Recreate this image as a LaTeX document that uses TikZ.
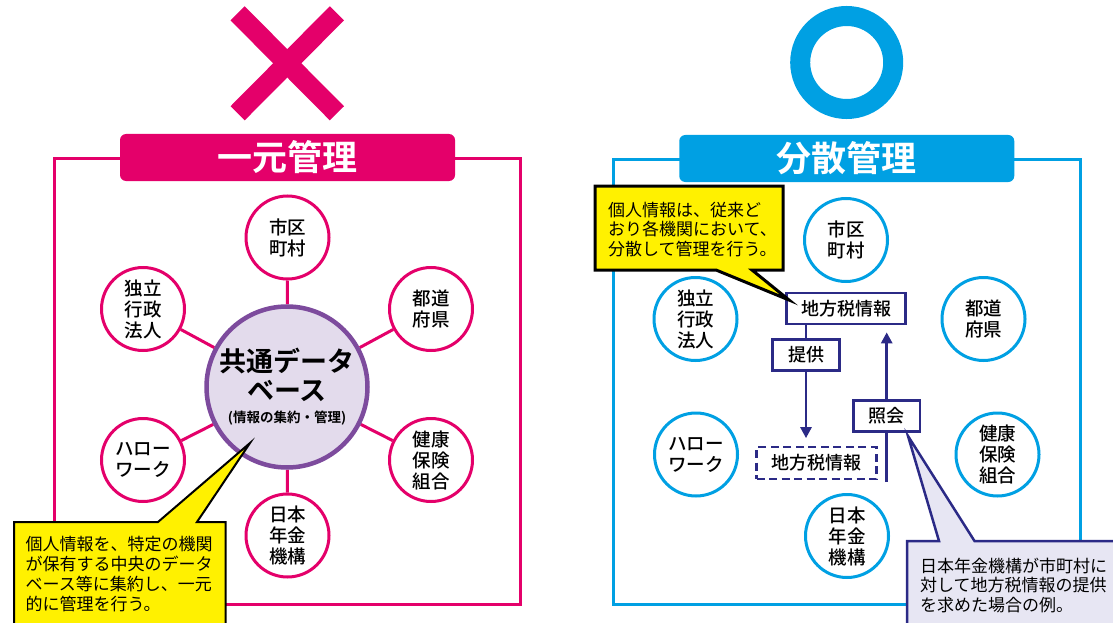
\documentclass[tikz,border=0pt]{standalone}
\usepackage{fontspec}
\setmainfont{Noto Sans CJK JP}
\newfontfamily\jpmed{Noto Sans CJK JP Medium}
\newfontfamily\jpbold{Noto Sans CJK JP Bold}
\usetikzlibrary{arrows.meta,backgrounds}
\definecolor{mag}{HTML}{E4006A}
\definecolor{cyanb}{HTML}{00A0E3}
\definecolor{purp}{HTML}{7D4B9D}
\definecolor{lav}{HTML}{E3DBEC}
\definecolor{navy}{HTML}{2B2A86}
\definecolor{yel}{HTML}{FFF100}
\definecolor{lavb}{HTML}{E7E6F3}
\tikzset{
  sat/.style={circle, draw=#1, line width=3pt, fill=white, minimum size=83pt, inner sep=0pt, align=center, font=\jpmed\fontsize{18.5}{21}\selectfont},
  titlebox/.style={rounded corners=6pt, fill=#1, text=white, minimum width=335pt, minimum height=47pt, inner sep=0pt, font=\jpbold\fontsize{35}{40}\selectfont},
  framebox/.style={draw=#1, line width=3pt},
  spoke/.style={draw=mag, line width=3pt},
  infobox/.style={draw=navy, line width=2.7pt, fill=white, inner sep=0pt, minimum height=31pt, font=\jpmed\fontsize{18}{20}\selectfont},
  flow/.style={draw=navy, line width=2.7pt, -{Triangle[width=11pt,length=11pt]}},
  calltext/.style={align=left, anchor=base west, inner sep=0pt},
}
\begin{document}
\begin{tikzpicture}[x=1pt,y=-1pt]
\useasboundingbox (0,0) rectangle (1113,623);
% ---------- left panel ----------
\draw[mag, line width=20pt] (237.6,13.3) -- (336.9,113.3);
\draw[mag, line width=20pt] (336.9,13.3) -- (237.6,113.3);
\draw[framebox=mag] (54,158) rectangle (520,604);
\node[titlebox=mag] (t1) at (287.5,157.5) {一元管理};
\node[sat=mag] (s1) at (287.5,237.5) {市区\\町村};
\node[sat=mag] (s2) at (143,309) {独立\\行政\\法人};
\node[sat=mag] (s3) at (431,309) {都道\\府県};
\node[sat=mag] (s4) at (143,460) {ハロー\\ワーク};
\node[sat=mag] (s5) at (431,460) {健康\\保険\\組合};
\node[sat=mag] (s6) at (287.5,535.5) {日本\\年金\\機構};
\node[circle, draw=purp, fill=lav, line width=4.5pt, minimum size=161pt, inner sep=0pt, align=center, font=\jpbold\fontsize{27}{29}\selectfont] (db) at (287,387)
  {共通データ\\ベース\\[-7pt]{\jpbold\fontsize{13.5}{16}\selectfont (情報の集約・管理)}};
\begin{scope}[on background layer]
  \foreach \s in {s1,s2,s3,s4,s5,s6} \draw[spoke] (db) -- (\s);
\end{scope}
\coordinate (p1) at (250,443);
\draw[fill=yel, draw=black, line width=2pt] (14,522) -- (158,522) -- (p1) -- (197,522) -- (225.5,522) -- (225.5,640) -- (14,640) -- cycle;
\node[calltext, font=\fontsize{17}{20}\selectfont] (c1) at (25.5,610.5)
  {個人情報を、特定の機関\\が保有する中央のデータ\\ベース等に集約し、一元\\的に管理を行う。};
% ---------- right panel ----------
\draw[cyanb, line width=20pt] (846.7,62.5) circle[radius=46.5];
\draw[framebox=cyanb] (613,159) rectangle (1080,604);
\node[titlebox=cyanb] (t2) at (846.75,158.5) {分散管理};
\node[sat=cyanb] (r1) at (846,240) {市区\\町村};
\node[sat=cyanb] (r2) at (695.5,319) {独立\\行政\\法人};
\node[sat=cyanb] (r3) at (983.5,319) {都道\\府県};
\node[sat=cyanb] (r4) at (696,454.5) {ハロー\\ワーク};
\node[sat=cyanb] (r5) at (997.5,454.5) {健康\\保険\\組合};
\node[sat=cyanb] (r6) at (847,536) {日本\\年金\\機構};
\node[infobox, minimum width=119pt] (tax) at (846.2,308.5) {地方税情報};
\node[infobox, minimum width=66.5pt] (teikyo) at (806,355) {提供};
\node[infobox, minimum width=66.5pt] (shokai) at (886.7,416) {照会};
\node[infobox, dashed, dash pattern=on 8pt off 4.5pt, minimum width=120pt, minimum height=32pt] (taxd) at (816.7,463) {地方税情報};
\coordinate (upstart) at (886.7,482);
\begin{scope}[on background layer]
  \draw[flow, shorten >=7.5pt] (tax.south -| teikyo) -- (teikyo |- taxd.north);
  \draw[flow, shorten >=7pt] (upstart) -- (upstart |- tax.south);
\end{scope}
\coordinate (p2) at (789,300);
\draw[fill=yel, draw=black, line width=3pt] (595,186) -- (783,186) -- (783,270) -- (752,270) -- (p2) -- (716,270) -- (595,270) -- cycle;
\node[calltext, font=\fontsize{17}{19.3}\selectfont] (c2) at (608,255.1)
  {個人情報は、従来ど\\おり各機関において、\\分散して管理を行う。};
\coordinate (p3) at (908,436);
\draw[fill=lavb, draw=navy, line width=2.5pt] (907,640) -- (907,541) -- (939,541) -- (p3) -- (974.5,541) -- (1125,541) -- (1125,640) -- cycle;
\node[calltext, font=\fontsize{17}{19.5}\selectfont] (c3) at (920,611)
  {日本年金機構が市町村に\\対して地方税情報の提供\\を求めた場合の例。};
\end{tikzpicture}
\end{document}
